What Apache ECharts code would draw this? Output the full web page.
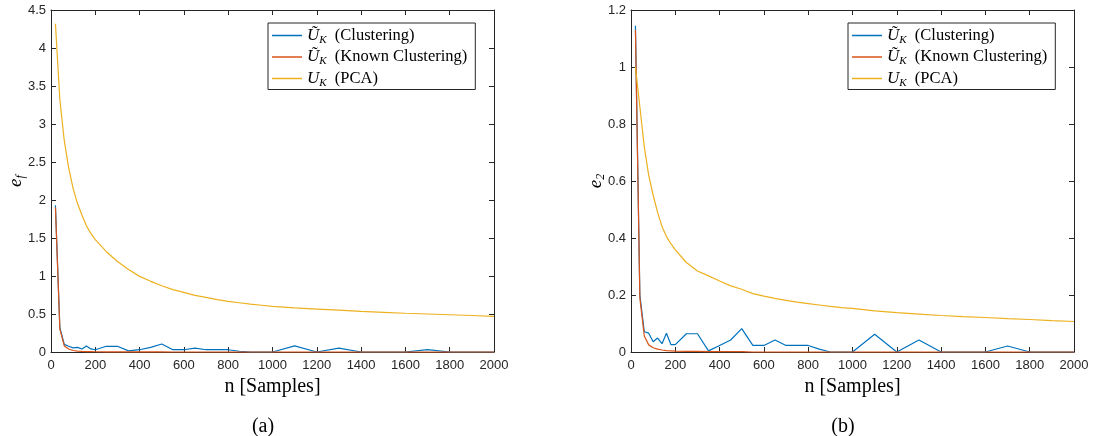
<!DOCTYPE html>
<html>
<head>
<meta charset="utf-8">
<script src="https://cdn.jsdelivr.net/npm/echarts@6/dist/echarts.min.js"></script>
<style>html,body{margin:0;padding:0;background:#fff}#c{width:1096px;height:436px}</style>
</head>
<body>
<div id="c"></div>
<script>
// sample sizes n
const nVals = [20,40,60,80,100,120,140,160,180,200,250,300,350,400,450,500,550,600,650,700,750,800,850,900,950,1000,1100,1200,1300,1400,1500,1600,1700,1800,1900,2000];
// (a) e_f
const efClust = [1.93,0.32,0.10,0.075,0.055,0.06,0.04,0.08,0.04,0.03,0.075,0.075,0.015,0.03,0.06,0.105,0.03,0.03,0.05,0.03,0.03,0.03,0.01,0,0,0,0.08,0,0.05,0,0,0,0.03,0,0,0];
const efKnown = [1.9,0.30,0.08,0.04,0.02,0.012,0.008,0.005,0.004,0.003,0.002,0.002,0.001,0.001,0.001,0.001,0,0,0,0,0,0,0,0,0,0,0,0,0,0,0,0,0,0,0,0];
const efPCA = [4.32,3.32,2.78,2.42,2.15,1.95,1.8,1.66,1.56,1.478,1.32,1.19,1.085,0.995,0.93,0.872,0.82,0.784,0.745,0.718,0.69,0.666,0.648,0.63,0.615,0.6,0.58,0.565,0.55,0.535,0.522,0.51,0.5,0.49,0.48,0.47];
// (b) e_2
const e2Clust = [1.145,0.2,0.071,0.066,0.036,0.049,0.029,0.066,0.026,0.026,0.064,0.064,0.004,0.023,0.042,0.082,0.023,0.023,0.042,0.023,0.023,0.023,0.01,0,0,0,0.062,0,0.042,0,0,0,0.021,0,0,0];
const e2Known = [1.13,0.19,0.056,0.025,0.015,0.01,0.007,0.005,0.004,0.003,0.002,0.002,0.001,0.001,0.001,0.001,0,0,0,0,0,0,0,0,0,0,0,0,0,0,0,0,0,0,0,0];
const e2PCA = [1.0,0.86,0.72,0.62,0.55,0.49,0.44,0.405,0.38,0.358,0.314,0.284,0.267,0.249,0.232,0.22,0.205,0.196,0.188,0.181,0.175,0.17,0.165,0.16,0.156,0.153,0.144,0.138,0.133,0.128,0.124,0.121,0.117,0.114,0.11,0.107];
const seriesNames = ['clust','known','pca'];
const legendLabels = {
  clust: '{u|Ũ}{k|K}  (Clustering)',
  known: '{u|Ũ}{k|K}  (Known Clustering)',
  pca: '{u|U}{k|K}  (PCA)'
};
const colors = ['#0072BD','#D95319','#EDB120'];
const xTicksMax = 2000, xTickStep = 200;

const serif = '"Liberation Serif", "DejaVu Serif", serif';
const sans = '"Liberation Sans", Arial, sans-serif';
const axisColor = '#262626';

function pairs(arr){ return nVals.map((n,i)=>[n,arr[i]]); }

const richLeg = {
  u: {fontFamily: serif, fontStyle: 'italic', fontSize: 17, lineHeight: 20, color: '#000'},
  k: {fontFamily: serif, fontStyle: 'italic', fontSize: 11, lineHeight: 14, padding: [6,0,0,0], verticalAlign: 'bottom', color: '#000'}
};

function xAx(grid, pos, show){
  return {
    type: 'value', gridIndex: grid, position: pos, min: 0, max: xTicksMax, interval: xTickStep,
    axisLine: {show: true, onZero: false, lineStyle: {color: axisColor, width: 1}},
    axisTick: {show: true, inside: true, length: 5, lineStyle: {color: axisColor}},
    axisLabel: {show: show, color: axisColor, fontFamily: sans, fontSize: 13, margin: 7, formatter: v => String(v)},
    splitLine: {show: false},
    name: show ? 'n [Samples]' : '', nameLocation: 'middle', nameGap: 25,
    nameTextStyle: {fontFamily: serif, fontSize: 20, color: '#000'}
  };
}
function yAx(grid, pos, show, max, step, nameRich, gap){
  return {
    type: 'value', gridIndex: grid, position: pos, min: 0, max: max, interval: step,
    axisLine: {show: true, onZero: false, lineStyle: {color: axisColor, width: 1}},
    axisTick: {show: true, inside: true, length: 5, lineStyle: {color: axisColor}},
    axisLabel: {show: show, color: axisColor, fontFamily: sans, fontSize: 13, margin: 5, formatter: v => String(v)},
    splitLine: {show: false},
    name: show ? nameRich : '', nameLocation: 'middle', nameGap: gap, nameMoveOverlap: false,
    nameTextStyle: {fontFamily: serif, fontSize: 18, color: '#000',
      rich: {
        e: {fontFamily: serif, fontStyle: 'italic', fontSize: 19, lineHeight: 22, color: '#000'},
        s: {fontFamily: serif, fontStyle: 'italic', fontSize: 12, lineHeight: 14, padding: [8,0,0,0], verticalAlign: 'bottom', color: '#000'}
      }}
  };
}

const dataSets = [[efClust, efKnown, efPCA],[e2Clust, e2Known, e2PCA]];
const series = [];
for (let g = 0; g < 2; g++) {
  for (let s = 0; s < 3; s++) {
    series.push({
      name: seriesNames[s], type: 'line', xAxisIndex: g, yAxisIndex: g,
      data: pairs(dataSets[g][s]), symbol: 'none', showSymbol: false, smooth: false,
      lineStyle: {color: colors[s], width: 1.2}, itemStyle: {color: colors[s]},
      clip: false, animation: false
    });
  }
}

function legend(left){
  return {
    show: true,
    orient: 'vertical', left: left, top: 23,
    data: seriesNames.map(n => ({name: n, icon: 'rect'})), itemWidth: 30, itemHeight: 1.5, itemGap: 3,
    padding: [4, 8, 1, 4],
    borderColor: axisColor, borderWidth: 1, backgroundColor: '#fff',
    formatter: function(n){ return legendLabels[n]; },
    textStyle: {fontFamily: serif, fontSize: 16.5, color: '#000', rich: richLeg},
    selectedMode: false
  };
}

const chart = echarts.init(document.getElementById('c'), null, {renderer: 'canvas'});
chart.setOption({
  animation: false,
  backgroundColor: '#fff',
  color: colors,
  grid: [
    {left: 51, right: 602, top: 10, bottom: 84},
    {left: 631, right: 22, top: 10, bottom: 84}
  ],
  xAxis: [xAx(0,'bottom',true), xAx(1,'bottom',true), xAx(0,'top',false), xAx(1,'top',false)],
  yAxis: [
    yAx(0,'left',true,4.5,0.5,'{e|e}{s|f}',24),
    yAx(1,'left',true,1.2,0.2,'{e|e}{s|2}',24),
    yAx(0,'right',false,4.5,0.5,'',0),
    yAx(1,'right',false,1.2,0.2,'',0)
  ],
  legend: [legend(268), legend(848)],
  title: [
    {text: '(a)', left: 258, top: 412, textAlign: 'center', textStyle: {fontFamily: serif, fontSize: 20, fontWeight: 'normal', color: '#000'}},
    {text: '(b)', left: 838, top: 412, textAlign: 'center', textStyle: {fontFamily: serif, fontSize: 20, fontWeight: 'normal', color: '#000'}}
  ],
  series: series
});
</script>
</body>
</html>
